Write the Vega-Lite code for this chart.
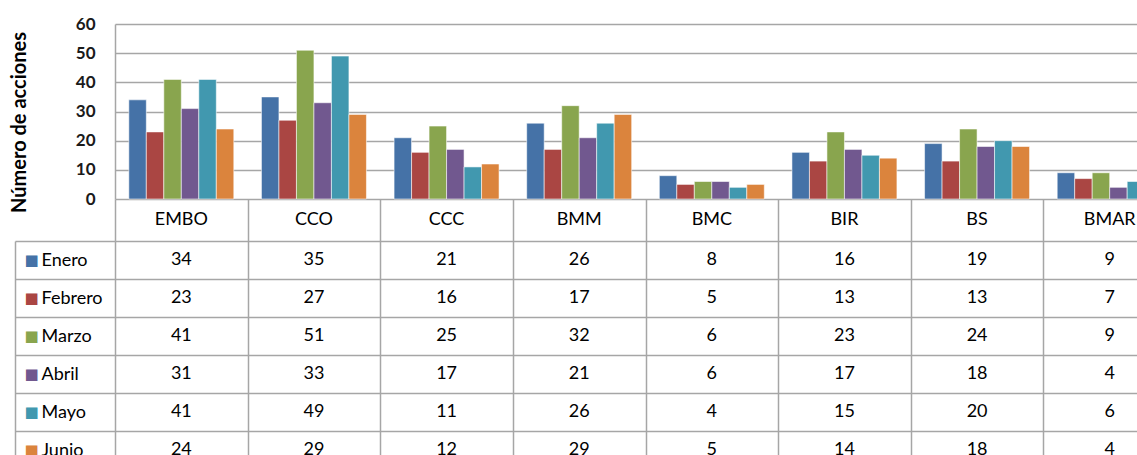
{
  "$schema": "https://vega.github.io/schema/vega-lite/v6.json",
  "padding": {"left": 9, "top": 15, "right": 0, "bottom": 0},
  "bounds": "flush",
  "spacing": 0,
  "background": "white",
  "config": {"view": {"stroke": null}, "font": "Lato"},
  "datasets": {
    "vals": [
      {"cat": "EMBO", "mes": "Enero", "n": 34}, {"cat": "EMBO", "mes": "Febrero", "n": 23}, {"cat": "EMBO", "mes": "Marzo", "n": 41}, {"cat": "EMBO", "mes": "Abril", "n": 31}, {"cat": "EMBO", "mes": "Mayo", "n": 41}, {"cat": "EMBO", "mes": "Junio", "n": 24},
      {"cat": "CCO", "mes": "Enero", "n": 35}, {"cat": "CCO", "mes": "Febrero", "n": 27}, {"cat": "CCO", "mes": "Marzo", "n": 51}, {"cat": "CCO", "mes": "Abril", "n": 33}, {"cat": "CCO", "mes": "Mayo", "n": 49}, {"cat": "CCO", "mes": "Junio", "n": 29},
      {"cat": "CCC", "mes": "Enero", "n": 21}, {"cat": "CCC", "mes": "Febrero", "n": 16}, {"cat": "CCC", "mes": "Marzo", "n": 25}, {"cat": "CCC", "mes": "Abril", "n": 17}, {"cat": "CCC", "mes": "Mayo", "n": 11}, {"cat": "CCC", "mes": "Junio", "n": 12},
      {"cat": "BMM", "mes": "Enero", "n": 26}, {"cat": "BMM", "mes": "Febrero", "n": 17}, {"cat": "BMM", "mes": "Marzo", "n": 32}, {"cat": "BMM", "mes": "Abril", "n": 21}, {"cat": "BMM", "mes": "Mayo", "n": 26}, {"cat": "BMM", "mes": "Junio", "n": 29},
      {"cat": "BMC", "mes": "Enero", "n": 8}, {"cat": "BMC", "mes": "Febrero", "n": 5}, {"cat": "BMC", "mes": "Marzo", "n": 6}, {"cat": "BMC", "mes": "Abril", "n": 6}, {"cat": "BMC", "mes": "Mayo", "n": 4}, {"cat": "BMC", "mes": "Junio", "n": 5},
      {"cat": "BIR", "mes": "Enero", "n": 16}, {"cat": "BIR", "mes": "Febrero", "n": 13}, {"cat": "BIR", "mes": "Marzo", "n": 23}, {"cat": "BIR", "mes": "Abril", "n": 17}, {"cat": "BIR", "mes": "Mayo", "n": 15}, {"cat": "BIR", "mes": "Junio", "n": 14},
      {"cat": "BS", "mes": "Enero", "n": 19}, {"cat": "BS", "mes": "Febrero", "n": 13}, {"cat": "BS", "mes": "Marzo", "n": 24}, {"cat": "BS", "mes": "Abril", "n": 18}, {"cat": "BS", "mes": "Mayo", "n": 20}, {"cat": "BS", "mes": "Junio", "n": 18},
      {"cat": "BMAR", "mes": "Enero", "n": 9}, {"cat": "BMAR", "mes": "Febrero", "n": 7}, {"cat": "BMAR", "mes": "Marzo", "n": 9}, {"cat": "BMAR", "mes": "Abril", "n": 4}, {"cat": "BMAR", "mes": "Mayo", "n": 6}, {"cat": "BMAR", "mes": "Junio", "n": 4}
    ]
  },
  "vconcat": [
    {
      "width": 1061,
      "height": 175,
      "data": {"name": "vals"},
      "mark": {"type": "bar", "stroke": "#ffffff", "strokeOpacity": 0.55, "strokeWidth": 1},
      "encoding": {
        "x": {"field": "cat", "type": "nominal", "sort": null, "scale": {"domain": ["EMBO", "CCO", "CCC", "BMM", "BMC", "BIR", "BS", "BMAR"], "paddingInner": 0, "paddingOuter": 0}, "axis": null},
        "xOffset": {"field": "mes", "type": "nominal", "scale": {"domain": ["Enero", "Febrero", "Marzo", "Abril", "Mayo", "Junio"], "paddingInner": 0, "paddingOuter": 0.79}},
        "y": {"field": "n", "type": "quantitative", "scale": {"domain": [0, 60], "nice": false},
          "axis": {"title": "Número de acciones", "values": [0, 10, 20, 30, 40, 50, 60], "grid": true, "gridColor": "#a6a6a6", "gridWidth": 1.5, "domain": true, "domainColor": "#a6a6a6", "domainWidth": 1.5, "ticks": false, "labelPadding": 20, "labelFontSize": 17, "labelFontWeight": "bold", "labelColor": "#1a1a1a", "labelFont": "Lato", "titleFont": "Lato", "titleFontSize": 20, "titleFontWeight": "bold", "titleColor": "#000000", "titlePadding": 46, "titleY": 98}},
        "color": {"field": "mes", "type": "nominal", "scale": {"domain": ["Enero", "Febrero", "Marzo", "Abril", "Mayo", "Junio"], "range": ["#4572A7", "#AA4643", "#89A54E", "#71588F", "#4198AF", "#DB843D"]}, "legend": null}
      }
    },
    {
      "width": 1061,
      "height": 42,
      "data": {"name": "vals"},
      "transform": [{"filter": "datum.mes === 'Enero'"}],
      "mark": {"type": "text", "fontSize": 18, "font": "Lato", "color": "#000000"},
      "encoding": {
        "x": {"field": "cat", "type": "nominal", "sort": null, "scale": {"domain": ["EMBO", "CCO", "CCC", "BMM", "BMC", "BIR", "BS", "BMAR"], "paddingInner": 0, "paddingOuter": 0},
          "axis": {"grid": true, "tickBand": "extent", "gridColor": "#a6a6a6", "gridWidth": 1.5, "labels": false, "ticks": false, "domain": false, "title": null}},
        "text": {"field": "cat"}
      }
    },
    {
      "width": 1061,
      "height": 228,
      "data": {"name": "vals"},
      "encoding": {
        "x": {"field": "cat", "type": "nominal", "sort": null, "scale": {"domain": ["EMBO", "CCO", "CCC", "BMM", "BMC", "BIR", "BS", "BMAR"], "paddingInner": 0, "paddingOuter": 0},
          "axis": {"grid": true, "tickBand": "extent", "gridColor": "#a6a6a6", "gridWidth": 1.5, "labels": false, "ticks": false, "domain": false, "title": null}}
      },
      "layer": [
        {
          "mark": {"type": "text", "fontSize": 18, "font": "Lato", "color": "#000000"},
          "encoding": {
            "y": {"field": "mes", "type": "nominal", "sort": null, "scale": {"domain": ["Enero", "Febrero", "Marzo", "Abril", "Mayo", "Junio"], "paddingInner": 0, "paddingOuter": 0},
              "axis": {"orient": "left", "title": null, "grid": true, "tickBand": "extent", "gridColor": "#a6a6a6", "gridWidth": 1.5, "domain": true, "domainColor": "#a6a6a6", "domainWidth": 1.5, "offset": 100, "ticks": true, "tickSize": -100, "tickColor": "#a6a6a6", "tickWidth": 1.5, "labelAlign": "left", "labelPadding": 74, "labelFontSize": 18, "labelFont": "Lato", "labelColor": "#000000", "labelOverlap": false}},
            "text": {"field": "n", "type": "quantitative"}
          }
        },
        {
          "mark": {"type": "text", "fontSize": 18, "opacity": 0},
          "encoding": {
            "y": {"field": "mes", "type": "nominal", "sort": null, "scale": {"domain": ["Enero", "Febrero", "Marzo", "Abril", "Mayo", "Junio"], "paddingInner": 0, "paddingOuter": 0},
              "axis": {"orient": "left", "title": null, "grid": false, "domain": false, "ticks": false, "labelAlign": "left", "labelPadding": 91, "labelFontSize": 15, "labelFont": "DejaVu Sans", "labelExpr": "'■'", "labelOverlap": false,
                "labelColor": {"condition": [
                  {"test": "datum.value === 'Enero'", "value": "#4572A7"},
                  {"test": "datum.value === 'Febrero'", "value": "#AA4643"},
                  {"test": "datum.value === 'Marzo'", "value": "#89A54E"},
                  {"test": "datum.value === 'Abril'", "value": "#71588F"},
                  {"test": "datum.value === 'Mayo'", "value": "#4198AF"}
                ], "value": "#DB843D"}}},
            "text": {"field": "n", "type": "quantitative"}
          }
        }
      ],
      "resolve": {"axis": {"y": "independent"}}
    }
  ]
}
